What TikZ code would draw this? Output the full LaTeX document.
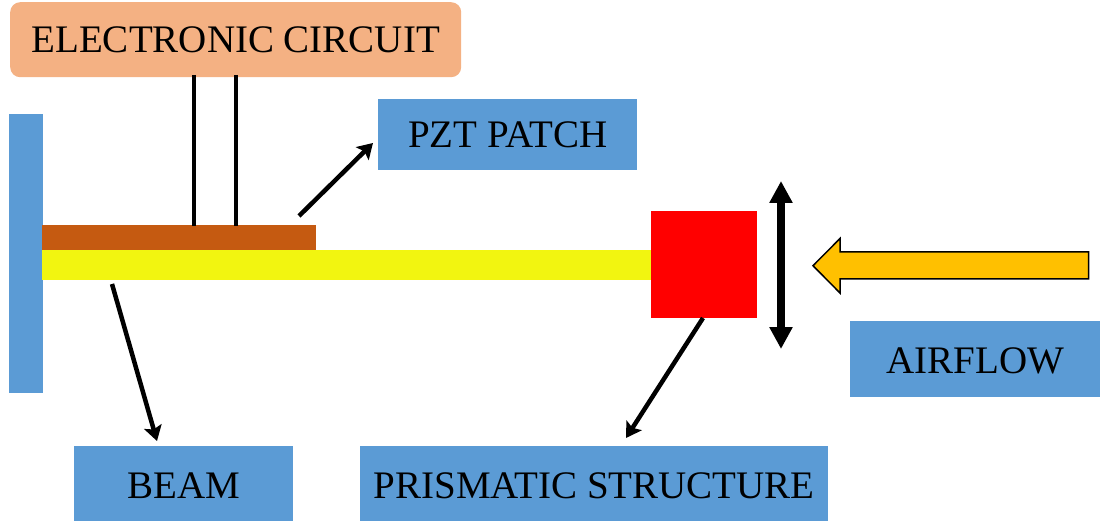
\documentclass[tikz,border=0pt]{standalone}
\usepackage{fontspec}
\setmainfont{Liberation Serif}
\usetikzlibrary{arrows.meta,calc}
\definecolor{bluebox}{HTML}{5B9BD5}
\definecolor{peach}{HTML}{F4B183}
\definecolor{patch}{HTML}{C55A11}
\definecolor{beamy}{HTML}{F2F510}
\definecolor{gold}{HTML}{FFC000}
\newcommand{\lowtext}[2]{\raisebox{-#1}[\height][\depth]{#2}}
\tikzset{
 x=1pt,y=-1pt,
 lab/.style={fill=bluebox,draw=none,inner sep=0pt,font=\fontsize{39}{39}\selectfont,text=black,align=center},
 solid box/.style={inner sep=0pt,draw=none},
 conn/.style={draw=black,line width=4.5pt,-{Stealth[length=15pt,width=18pt,inset=3pt]}},
 wire/.style={draw=black,line width=4.3pt},
}
\begin{document}
\begin{tikzpicture}
\useasboundingbox (0,0) rectangle (1100,521);
\node[solid box,fill=bluebox,minimum width=34pt,minimum height=279pt,anchor=north west] (wall) at (9,114) {};
\node[solid box,fill=beamy,minimum width=609pt,minimum height=30pt,anchor=north west] (beam) at (42,249.5) {};
\node[solid box,fill=patch,minimum width=274pt,minimum height=24.5pt,anchor=north west] (pzt) at (42,225) {};
\node[solid box,fill=red,minimum width=106.4pt,minimum height=106pt,anchor=north west] (prism) at (650.3,211.3) {};
\node[fill=peach,rounded corners=10pt,inner sep=0pt,minimum width=451pt,minimum height=75pt,anchor=north west,font=\fontsize{39}{39}\selectfont] (circuit) at (10,2) {ELECTRONIC CIRCUIT};
\node[lab,minimum width=259pt,minimum height=71pt,anchor=north west] (lpzt) at (378,99) {PZT PATCH};
\node[lab,minimum width=250pt,minimum height=76pt,anchor=north west] (lair) at (850,321) {\lowtext{1.5pt}{AIRFLOW}};
\node[lab,minimum width=219pt,minimum height=75pt,anchor=north west] (lbeam) at (74,446) {\lowtext{2pt}{BEAM}};
\node[lab,minimum width=468pt,minimum height=75pt,anchor=north west] (lprism) at (360,446) {\lowtext{2pt}{PRISMATIC STRUCTURE}};
\coordinate (w1a) at (194,75); \coordinate (w1b) at (194,226);
\coordinate (w2a) at (235.7,75); \coordinate (w2b) at (235.7,226);
\draw[wire] (w1a) -- (w1b);
\draw[wire] (w2a) -- (w2b);
\coordinate (a1) at (299,216); \coordinate (a1e) at (373,143);
\draw[conn] (a1) -- (a1e);
\coordinate (a2) at (112,284); \coordinate (a2e) at (157,441);
\draw[conn] (a2) -- (a2e);
\coordinate (a3) at (703,318); \coordinate (a3e) at (626,438);
\draw[conn] (a3) -- (a3e);
\coordinate (a4) at (781,181); \coordinate (a4e) at (781,349);
\draw[draw=black,line width=7.5pt,{Triangle[length=22pt,width=22pt]}-{Triangle[length=22pt,width=22pt]}] (a4) -- (a4e);
\draw[fill=gold,draw=black,line width=1.5pt,miter limit=10] (1088.5,252) -- (840,252) -- (840,238.5) -- (813,265.7) -- (840,293) -- (840,279) -- (1088.5,279) -- cycle;
\end{tikzpicture}
\end{document}
